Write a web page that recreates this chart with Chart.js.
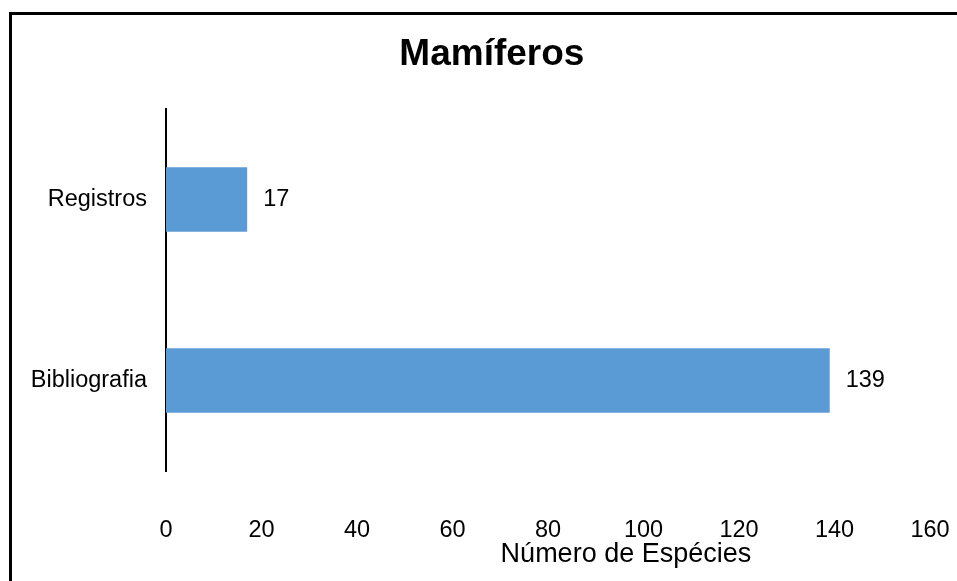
<!DOCTYPE html>
<html>
<head>
<meta charset="utf-8">
<script src="https://cdn.jsdelivr.net/npm/chart.js@4"></script>
<style>
  body { margin: 0; background: #fff; }
  #wrap { position: relative; width: 957px; height: 581px; }
  #frame { position: absolute; left: 9px; top: 12px; right: -10px; bottom: -10px;
           border-top: 3px solid #000; border-left: 3px solid #000; pointer-events: none; }
</style>
</head>
<body>
<div id="wrap">
  <canvas id="chart" width="957" height="581"></canvas>
  <div id="frame"></div>
</div>
<script>
    let categories = ["Registros", "Bibliografia"];
    let values = [17, 139];
    let xTicks = [0, 20, 40, 60, 80, 100, 120, 140, 160];
    let chartTitle = "Mamíferos";
    let xTitle = "Número de Espécies";

    const font = "'Liberation Sans', Arial, sans-serif";

    // value labels, title and x axis title (both sit right of centre, as in the original)
    const extras = {
        id: "extras",
        afterDatasetsDraw(chart) {
            const ctx = chart.ctx;
            const area = chart.chartArea;
            ctx.save();
            ctx.fillStyle = "#000";
            ctx.textBaseline = "middle";
            ctx.font = "23.5px " + font;
            ctx.textAlign = "left";
            chart.getDatasetMeta(0).data.forEach((bar, i) => {
                ctx.fillText(values[i], bar.x + 16, bar.y);
            });
            ctx.textAlign = "center";
            ctx.font = "27px " + font;
            ctx.fillText(xTitle, area.left + (area.right - area.left) * 0.602, area.bottom + 84);
            ctx.font = "bold 37px " + font;
            ctx.fillText(chartTitle, chart.width * 0.514, area.top - 54);
            ctx.restore();
        }
    };

    new Chart(document.getElementById("chart"), {
        type: "bar",
        data: {
            labels: categories,
            datasets: [{
                data: values,
                backgroundColor: "#5B9BD5",
                borderWidth: 0,
                barPercentage: 0.356,
                categoryPercentage: 1
            }]
        },
        options: {
            indexAxis: "y",
            responsive: false,
            animation: false,
            layout: { padding: { top: 109, right: 27, left: 0, bottom: 0 } },
            plugins: {
                legend: { display: false },
                tooltip: { enabled: false },
                title: { display: false }
            },
            scales: {
                x: {
                    min: 0,
                    max: 160,
                    afterBuildTicks: s => { s.ticks = xTicks.map(v => ({ value: v })); },
                    grid: { display: false, drawTicks: false },
                    border: { display: false },
                    ticks: { color: "#000", font: { family: font, size: 23.5 }, padding: 45, maxRotation: 0 },
                    afterFit: s => { s.height = 110; s.paddingLeft = 0; s.paddingRight = 0; }
                },
                y: {
                    grid: { display: false, drawTicks: false },
                    border: { display: true, color: "#000", width: 2 },
                    ticks: { color: "#000", font: { family: font, size: 23.5 }, padding: 19 },
                    afterFit: s => { s.width = 166; }
                }
            }
        },
        plugins: [extras]
    });
</script>
</body>
</html>
